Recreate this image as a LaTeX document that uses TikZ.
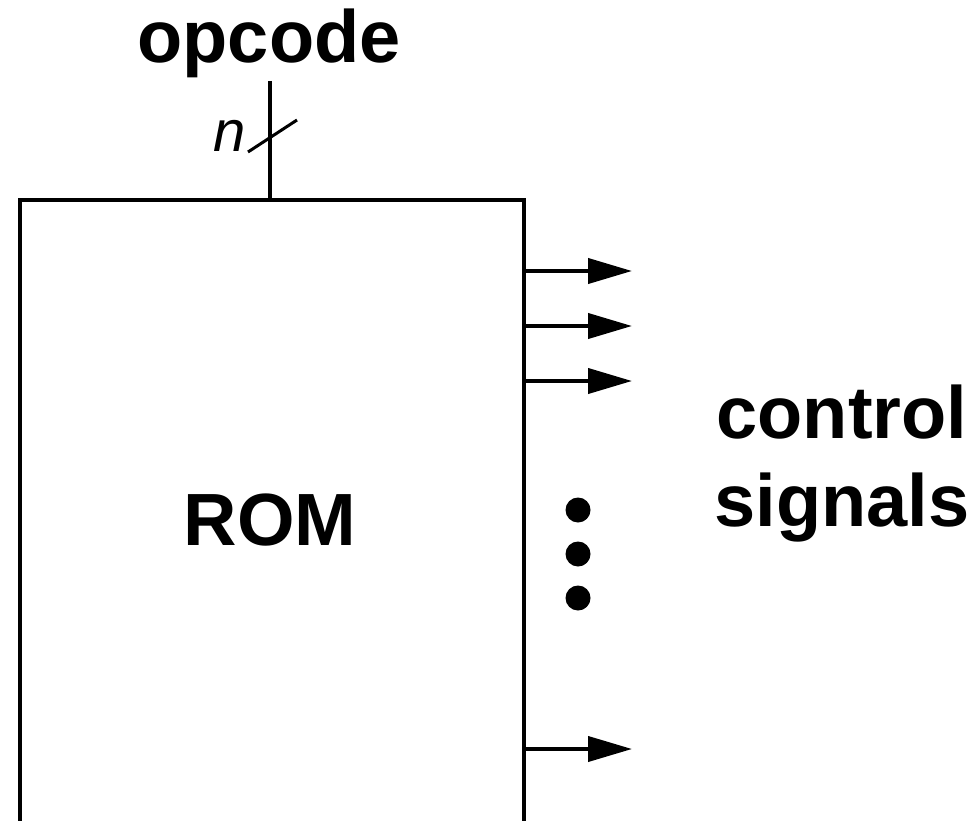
\documentclass[tikz,border=0pt]{standalone}
\usepackage{fontspec}
\setmainfont{Liberation Sans}
\usetikzlibrary{arrows.meta}
\tikzset{
  wire/.style={line width=4pt},
  sig/.style={line width=4pt,-{Triangle[length=44pt,width=25pt]}},
  big/.style={font=\fontsize{74pt}{88pt}\selectfont\bfseries,inner sep=0pt},
  dotc/.style={fill=black,circle,inner sep=0pt,minimum size=25pt}
}
\begin{document}
\begin{tikzpicture}[x=1pt,y=-1pt]
\useasboundingbox (0,0) rectangle (971,821);
\node[draw,line width=4pt,minimum width=504pt,minimum height=642pt,inner sep=0pt,anchor=north west] (rom) at (18,198) {};
\node[big,anchor=base] (romt) at (270,545) {ROM};
\node[big,anchor=base] (op) at (269,63) {opcode};
\coordinate (in) at (270,81);
\draw[wire] (in) -- (in |- rom.north);
\coordinate (s1) at (248,152);
\coordinate (s2) at (297,120);
\draw[line width=3pt] (s1) -- (s2);
\node[font=\fontsize{58pt}{70pt}\selectfont\itshape,inner sep=0pt,anchor=base] (n) at (230,152) {n};
\coordinate (o1) at (632,271);
\coordinate (o2) at (632,326);
\coordinate (o3) at (632,381);
\coordinate (o4) at (632,749);
\foreach \o in {o1,o2,o3,o4} \draw[sig] (\o -| rom.east) -- (\o);
\node[dotc] (d1) at (578,510) {};
\node[dotc] (d2) at (578,554) {};
\node[dotc] (d3) at (578,598) {};
\node[big,align=center,anchor=base] (cs) at (842,526) {control\\signals};
\end{tikzpicture}
\end{document}
